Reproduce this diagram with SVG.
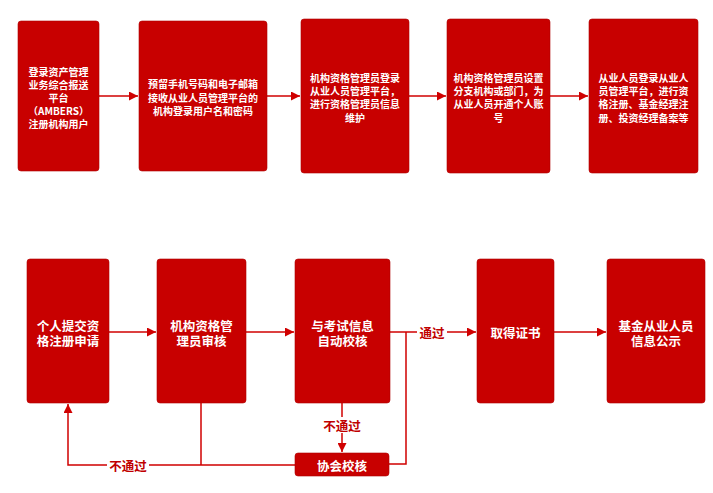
<svg xmlns="http://www.w3.org/2000/svg" width="713" height="493" viewBox="0 0 713 493">
<defs>
<style>
.box{fill:#C80000;stroke:#B00000;stroke-width:0.6}
.t{font-family:"Noto Sans CJK SC","Liberation Sans",sans-serif;fill:#fff;font-weight:bold;text-anchor:middle;dominant-baseline:central}
.s{font-size:10px}
.b{font-size:12.5px}
.c{fill:none;stroke:#D00000;stroke-width:1.5}
.lbl{font-family:"Noto Sans CJK SC","Liberation Sans",sans-serif;fill:#C00000;font-weight:bold;font-size:12.5px;text-anchor:middle;dominant-baseline:central}
</style>
<marker id="ah" viewBox="0 0 10 10" refX="10" refY="5" markerWidth="6" markerHeight="6" orient="auto" markerUnits="strokeWidth">
<path d="M0,0 L10,5 L0,10 Z" fill="#D00000"/>
</marker>
</defs>
<rect width="713" height="493" fill="#fff"/>
<g id="connectors">
<line class="c" x1="99" y1="96" x2="138" y2="96" marker-end="url(#ah)"/>
<line class="c" x1="267" y1="96" x2="300" y2="96" marker-end="url(#ah)"/>
<line class="c" x1="409" y1="96" x2="446" y2="96" marker-end="url(#ah)"/>
<line class="c" x1="550" y1="96" x2="588" y2="96" marker-end="url(#ah)"/>
<line class="c" x1="109" y1="332" x2="156" y2="332" marker-end="url(#ah)"/>
<line class="c" x1="246" y1="332" x2="294" y2="332" marker-end="url(#ah)"/>
<line class="c" x1="390" y1="332" x2="476" y2="332" marker-end="url(#ah)"/>
<line class="c" x1="554" y1="332" x2="606" y2="332" marker-end="url(#ah)"/>
<line class="c" x1="342" y1="403" x2="342" y2="452" marker-end="url(#ah)"/>
<polyline class="c" points="389,464 406,464 406,332"/>
<polyline class="c" points="295,465 68,465 68,404" marker-end="url(#ah)"/>
<line class="c" x1="201" y1="403" x2="201" y2="465"/>
<rect x="417" y="324" width="30" height="16" fill="#fff"/>
<text class="lbl" x="432" y="332">通过</text>
<rect x="321" y="417" width="42" height="16" fill="#fff"/>
<text class="lbl" x="342" y="425">不通过</text>
<rect x="107" y="457" width="42" height="16" fill="#fff"/>
<text class="lbl" x="128" y="465">不通过</text>
</g>
<g id="n1">
<rect class="box" x="18" y="21" width="81" height="150" rx="3"/>
<text class="t s" x="58.5" y="71">登录资产管理</text>
<text class="t s" x="58.5" y="84">业务综合报送</text>
<text class="t s" x="58.5" y="97">平台</text>
<text class="t s" x="58.5" y="110">（AMBERS）</text>
<text class="t s" x="58.5" y="123">注册机构用户</text>
</g>
<g id="n2">
<rect class="box" x="139" y="21" width="128" height="150" rx="3"/>
<text class="t s" x="203" y="83">预留手机号码和电子邮箱</text>
<text class="t s" x="203" y="97">接收从业人员管理平台的</text>
<text class="t s" x="203" y="110">机构登录用户名和密码</text>
</g>
<g id="n3">
<rect class="box" x="301" y="19" width="108" height="154" rx="3"/>
<text class="t s" x="355" y="77">机构资格管理员登录</text>
<text class="t s" x="355" y="90">从业人员管理平台，</text>
<text class="t s" x="355" y="103">进行资格管理员信息</text>
<text class="t s" x="355" y="117">维护</text>
</g>
<g id="n4">
<rect class="box" x="447" y="19" width="103" height="154" rx="3"/>
<text class="t s" x="498.5" y="77">机构资格管理员设置</text>
<text class="t s" x="498.5" y="90">分支机构或部门，为</text>
<text class="t s" x="498.5" y="103">从业人员开通个人账</text>
<text class="t s" x="498.5" y="117">号</text>
</g>
<g id="n5">
<rect class="box" x="589" y="19" width="109" height="154" rx="3"/>
<text class="t s" x="643.5" y="77">从业人员登录从业人</text>
<text class="t s" x="643.5" y="90">员管理平台，进行资</text>
<text class="t s" x="643.5" y="103">格注册、基金经理注</text>
<text class="t s" x="643.5" y="117">册、投资经理备案等</text>
</g>
<g id="n6">
<rect class="box" x="27" y="259" width="82" height="144" rx="3"/>
<text class="t b" x="68" y="325">个人提交资</text>
<text class="t b" x="68" y="340">格注册申请</text>
</g>
<g id="n7">
<rect class="box" x="157" y="259" width="89" height="144" rx="3"/>
<text class="t b" x="201.5" y="325">机构资格管</text>
<text class="t b" x="201.5" y="340">理员审核</text>
</g>
<g id="n8">
<rect class="box" x="295" y="259" width="95" height="144" rx="3"/>
<text class="t b" x="342.5" y="325">与考试信息</text>
<text class="t b" x="342.5" y="340">自动校核</text>
</g>
<g id="n9">
<rect class="box" x="477" y="259" width="77" height="144" rx="3"/>
<text class="t b" x="515.5" y="332">取得证书</text>
</g>
<g id="n10">
<rect class="box" x="607" y="259" width="98" height="144" rx="3"/>
<text class="t b" x="656" y="325">基金从业人员</text>
<text class="t b" x="656" y="340">信息公示</text>
</g>
<g id="n11">
<rect class="box" x="295" y="453" width="94" height="23" rx="3"/>
<text class="t b" x="342" y="465">协会校核</text>
</g>
</svg>
